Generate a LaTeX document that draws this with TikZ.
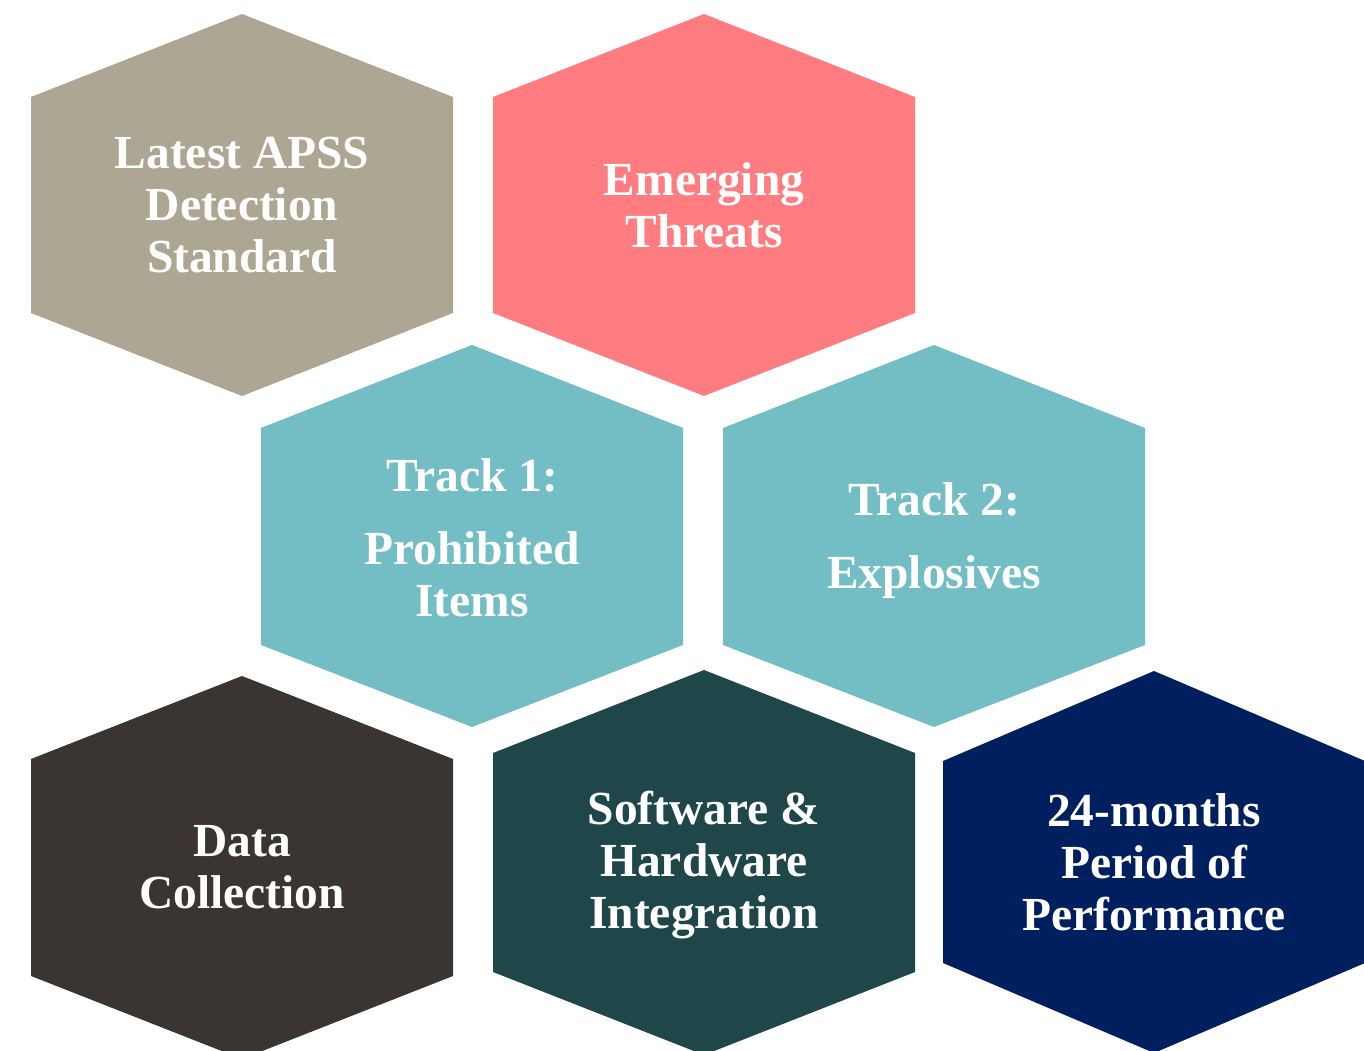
\documentclass[tikz,border=0pt]{standalone}
\usepackage{fontspec}
\setmainfont{Liberation Serif}

\definecolor{stdtaupe}{HTML}{ADA693}
\definecolor{threatpink}{HTML}{FF7C80}
\definecolor{trackteal}{HTML}{72BEC4}
\definecolor{datagrey}{HTML}{3A3531}
\definecolor{integgreen}{HTML}{1F474A}
\definecolor{periodnavy}{HTML}{001F5F}

\begin{document}
\begin{tikzpicture}[cell/.style={text=white,align=center,inner sep=0pt,font=\fontsize{27}{29.6}\selectfont\bfseries}]
\useasboundingbox (0,0) rectangle (27.28,21.02);
% top row
\path[fill=stdtaupe] (0.62,19.08) -- (4.84,20.74) -- (9.06,19.08) -- (9.06,14.76) -- (4.84,13.1) -- (0.62,14.76) -- cycle;
\node[cell] (apss) at (4.84,16.92) {Latest APSS\\Detection\\Standard};
\path[fill=threatpink] (9.86,19.08) -- (14.08,20.74) -- (18.3,19.08) -- (18.3,14.76) -- (14.08,13.1) -- (9.86,14.76) -- cycle;
\node[cell] (threats) at (14.08,16.92) {Emerging\\Threats};
% middle row
\path[fill=trackteal] (5.22,12.46) -- (9.44,14.12) -- (13.66,12.46) -- (13.66,8.12) -- (9.44,6.48) -- (5.22,8.12) -- cycle;
\node[cell] (trackone) at (9.44,10.26) {Track 1:\\[12pt]Prohibited\\Items};
\path[fill=trackteal] (14.46,12.46) -- (18.68,14.12) -- (22.9,12.46) -- (22.9,8.12) -- (18.68,6.48) -- (14.46,8.12) -- cycle;
\node[cell] (tracktwo) at (18.68,10.2) {Track 2:\\[12pt]Explosives};
% bottom row
\path[fill=datagrey] (0.62,5.84) -- (4.84,7.5) -- (9.06,5.84) -- (9.06,1.5) -- (4.84,-0.16) -- (0.62,1.5) -- cycle;
\node[cell] (data) at (4.84,3.68) {Data\\Collection};
\path[fill=integgreen] (9.86,5.96) -- (14.08,7.62) -- (18.3,5.96) -- (18.3,1.58) -- (14.08,-0.08) -- (9.86,1.58) -- cycle;
\node[cell] (integration) at (14.08,3.72) {Software \&\\Hardware\\Integration};
\path[fill=periodnavy] (18.86,5.8) -- (23.08,7.6) -- (27.3,5.8) -- (27.3,1.76) -- (23.08,-0.04) -- (18.86,1.76) -- cycle;
\node[cell] (period) at (23.08,3.78) {24-months\\Period of\\Performance};
\end{tikzpicture}
\end{document}
